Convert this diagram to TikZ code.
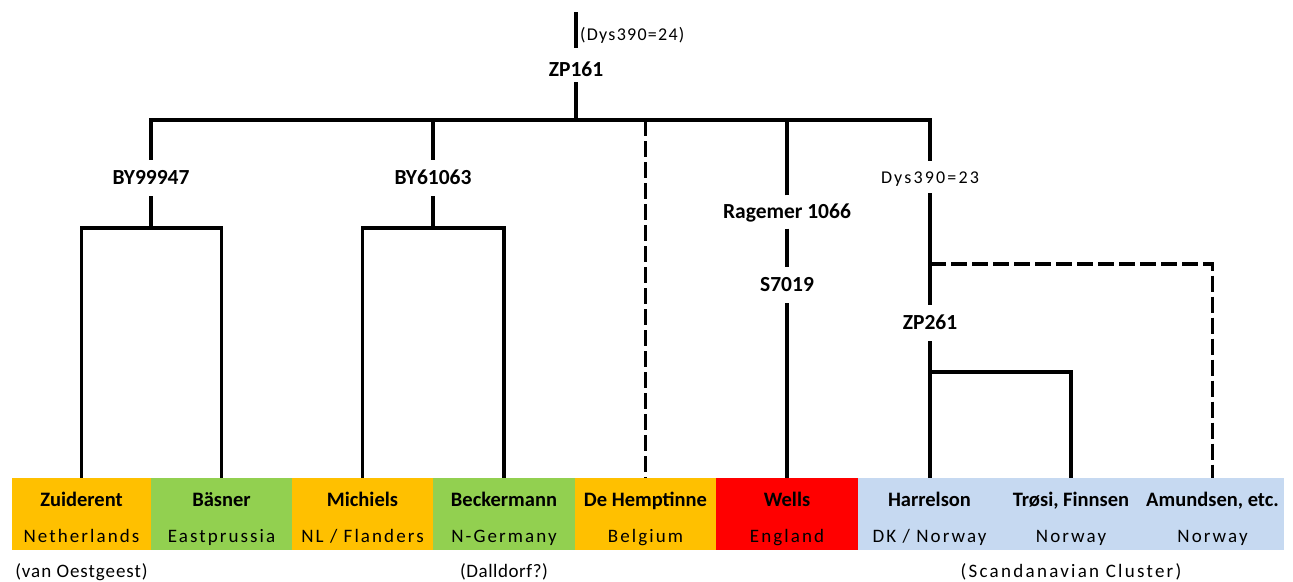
\documentclass[tikz,border=0pt]{standalone}
\usepackage{fontspec}
\setmainfont{Carlito}
\newfontfamily\ctfont[LetterSpace=11]{Carlito}
\newfontfamily\dysfont[LetterSpace=7]{Carlito}
\newfontfamily\dysbfont[LetterSpace=12]{Carlito}
\newfontfamily\vanfont[LetterSpace=5]{Carlito}
\newfontfamily\dalfont[LetterSpace=3]{Carlito}
\newfontfamily\scanfont[LetterSpace=12]{Carlito}
\usetikzlibrary{calc}
\definecolor{orng}{HTML}{FFC000}
\definecolor{grn}{HTML}{92D050}
\definecolor{redc}{HTML}{FF0000}
\definecolor{blu}{HTML}{C6D9F1}
\tikzset{
  tree/.style={line width=3.6pt},
  dashline/.style={line width=3.6pt, dash pattern=on 16pt off 5pt},
  lab/.style={font=\bfseries\fontsize{21.5}{21.5}\selectfont, inner xsep=2pt, inner ysep=11.5pt, text height=13pt, text depth=0pt},
  col/.style={minimum height=72pt, inner sep=0pt, draw=none},
  nm/.style={font=\bfseries\fontsize{20.5}{20.5}\selectfont, anchor=base, inner sep=0pt},
  ct/.style={font=\ctfont\fontsize{19}{19}\selectfont, anchor=base, inner sep=0pt},
}
\begin{document}
\begin{tikzpicture}[x=1pt,y=-1pt]
\useasboundingbox[fill=white] (0,0) rectangle (1293,581);
% columns
\node[col, fill=orng, minimum width=139pt] (zuid) at (81.5,514) {};
\node[col, fill=grn, minimum width=141pt] (basn) at (221.5,514) {};
\node[col, fill=orng, minimum width=141pt] (mich) at (362.5,514) {};
\node[col, fill=grn, minimum width=142pt] (beck) at (504,514) {};
\node[col, fill=orng, minimum width=141pt] (hemp) at (645.5,514) {};
\node[col, fill=redc, minimum width=142pt] (wells) at (787,514) {};
\node[col, fill=blu, minimum width=142.2pt] (harr) at (929.5,514) {};
\node[col, fill=blu, minimum width=142.2pt] (trosi) at (1071,514) {};
\node[col, fill=blu, minimum width=142.2pt] (amund) at (1212.5,514) {};
% names
\node[nm] at ($(zuid.center)+(0,-8)$) {Zuiderent};
\node[ct] at ($(zuid.center)+(0,28)$) {Netherlands};
\node[nm] at ($(basn.center)+(0,-8)$) {Bäsner};
\node[ct] at ($(basn.center)+(0,28)$) {Eastprussia};
\node[nm] at ($(mich.center)+(0,-8)$) {Michiels};
\node[ct] at ($(mich.center)+(0,28)$) {NL / Flanders};
\node[nm] at ($(beck.center)+(0,-8)$) {Beckermann};
\node[ct] at ($(beck.center)+(0,28)$) {N-Germany};
\node[nm] at ($(hemp.center)+(0,-8)$) {De Hemptinne};
\node[ct] at ($(hemp.center)+(0,28)$) {Belgium};
\node[nm] at ($(wells.center)+(0,-8)$) {Wells};
\node[ct] at ($(wells.center)+(0,28)$) {England};
\node[nm] at ($(harr.center)+(0,-8)$) {Harrelson};
\node[ct] at ($(harr.center)+(0,28)$) {DK / Norway};
\node[nm] at ($(trosi.center)+(0,-8)$) {Trøsi, Finnsen};
\node[ct] at ($(trosi.center)+(0,28)$) {Norway};
\node[nm] at ($(amund.center)+(0,-8)$) {Amundsen, etc.};
\node[ct] at ($(amund.center)+(0,28)$) {Norway};
% notes
\node[ct, font=\vanfont\fontsize{19}{19}\selectfont] (n1) at ($(zuid.center)+(0,63)$) {(van Oestgeest)};
\node[ct, font=\dalfont\fontsize{19}{19}\selectfont] (n2) at ($(beck.center)+(0,63)$) {(Dalldorf?)};
\node[ct, font=\scanfont\fontsize{19}{19}\selectfont] (n3) at ($(trosi.center)+(0,63)$) {(Scandanavian Cluster)};
% tree labels
\coordinate (rt) at (576,12);
\coordinate (rb) at (576,48);
\node[ct, font=\dysfont\fontsize{18}{18}\selectfont, anchor=base west] (dys24) at (580,40) {(Dys390=24)};
\node[lab, inner ysep=5.5pt] (zp161) at (576,70) {ZP161};
\node[lab] (by1) at (151,178) {BY99947};
\node[lab] (by2) at (433,178) {BY61063};
\node[lab, inner ysep=10pt] (rag) at (787,212) {Ragemer 1066};
\node[lab] (s7019) at (787,285) {S7019};
\node[lab, font=\dysbfont\fontsize{18}{18}\selectfont, inner ysep=9.5pt] (dys23) at (930,177) {Dys390=23};
\node[lab] (zp261) at (930,323) {ZP261};
\coordinate (hr) at (930,120);
\coordinate (k1) at (151,228);
\coordinate (k2) at (433,228);
\coordinate (k3) at (930,264);
\coordinate (k4) at (930,372);
% connectors
\draw[tree] (rt) -- (rb);
\draw[tree] (by1.north) |- (hr) -- (dys23.north);
\draw[tree] (zp161.south) -- (zp161.south |- hr);
\draw[tree] (by2.north) -- (by2.north |- hr);
\draw[tree] (rag.north) -- (rag.north |- hr);
\draw[tree] (by1.south) -- (k1);
\draw[tree] (zuid.north) |- (k1) -| (basn.north);
\draw[tree] (by2.south) -- (k2);
\draw[tree] (mich.north) |- (k2) -| (beck.north);
\draw[dashline] (hemp.north |- hr) -- (hemp.north);
\draw[tree] (rag.south) -- (s7019.north);
\draw[tree] (s7019.south) -- (wells.north);
\draw[tree] (dys23.south) -- (zp261.north);
\draw[dashline] (k3) -| (amund.north);
\draw[tree] (zp261.south) -- (zp261.south |- harr.north);
\draw[tree] (k4) -| (trosi.north);
\end{tikzpicture}
\end{document}
